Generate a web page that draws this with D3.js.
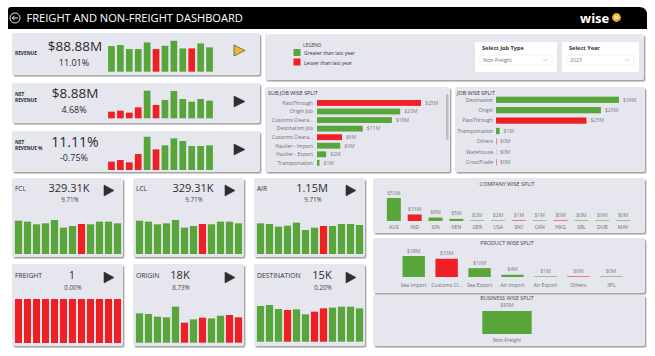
<!DOCTYPE html>
<html><head><meta charset="utf-8">
<script src="https://cdn.jsdelivr.net/npm/d3@7"></script>
<style>
body{margin:0;background:#fff;}
svg{display:block;font-family:'Open Sans',sans-serif;}
</style>
</head><body>
<svg id="c" width="655" height="356"></svg>
<script>
// ---------------- DATA ----------------
const months = ["Jan","Feb","Mar","Apr","May","Jun","Jul","Aug","Sep","Oct","Nov","Dec"];
const kpiLabels = [["REVENUE"],["NET","REVENUE"],["NET","REVENUE %"]];
const kpiValues = ["$88.88M","$8.88M","11.11%"];
const kpiChanges = ["11.01%","4.68%","-0.75%"];
const revenueTrend = [77,80,68,68,88,68,78,93,70,70,85,73];
const revenueUp    = [1,1,1,1,1,0,1,1,1,0,1,1];
const netRevenueTrend = [20,23,17,33,83,40,55,82,58,50,58,53];
const netRevenueUp    = [0,0,0,0,1,0,1,1,1,1,1,1];
const netRevenuePctTrend = [25,30,23,48,100,62,74,95,87,72,72,74];
const netRevenuePctUp    = [0,0,0,0,1,0,1,1,1,1,1,1];

const modeNames   = ["FCL","LCL","AIR"];
const modeValues  = ["329.31K","329.31K","1.15M"];
const modeChanges = ["9.71%","9.71%","9.71%"];
const fclTrend = [100,97,89,92,102,79,84,90,89,97,97,92];
const lclTrend = [100,97,89,92,102,79,84,90,89,97,97,92];
const airTrend = [92,90,82,85,94,72,79,84,84,90,90,87];
const modeUp   = [1,1,1,1,1,1,1,0,1,1,1,1];

const typeNames   = ["FREIGHT","ORIGIN","DESTINATION"];
const typeValues  = ["1","18K","15K"];
const typeChanges = ["0.00%","8.73%","0.20%"];
const freightTrend = [1,1,1,1,1,1,1,1,1,1,1,1];
const freightUp    = [0,0,0,0,0,0,0,0,0,0,0,0];
const originTrend  = [88,86,78,76,108,60,70,75,73,81,83,76];
const originUp     = [1,1,1,1,1,0,1,0,1,1,0,0];
const destTrend    = [107,110,98,95,97,82,90,100,102,105,105,100];
const destUp       = [1,1,1,0,1,1,0,0,1,1,1,1];

const subJobCats = ["PassThrough","Origin Job","Customs Cleara...","Destination Job","Customs Cleara...","Haulier - Import","Haulier - Export","Transportation"];
const subJobValues = [25,20,18,11,6,5.6,2.2,0.6];
const subJobLabels = ["$25M","$20M","$18M","$11M","$6M","$6M","$2M","$1M"];
const subJobUp = [0,1,1,1,0,1,1,1];

const jobCats = ["Destination","Origin","PassThrough","Transportation","Others","Warehouse","CrossTrade"];
const jobValues = [34,29,25,1,0,0,0];
const jobLabels = ["$34M","$29M","$25M","$1M","$0M","$0M","$0M"];
const jobUp = [1,1,0,1,0,2,0];

const companyCats = ["AUS","IND","SIN","KEN","GER","USA","SN1","CAN","HKG","SRL","DUB","MAY"];
const companyValues = [53,15,8,5,2,2,1,1,0,0,0,0];
const companyLabels = ["$53M","$15M","$8M","$5M","$2M","$2M","$1M","$1M","$0M","$0M","$0M","$0M"];
const companyUp = [1,0,1,1,1,1,0,1,0,1,1,1];

const productCats = ["Sea Import","Customs Cl...","Sea Export","Air Import","Air Export","Others","3PL"];
const productValues = [38,33,16,4,1,0,0];
const productLabels = ["$38M","$33M","$16M","$4M","$1M","$0M","$0M"];
const productUp = [1,0,1,1,1,0,1];

const businessCats = ["Non-Freight"];
const businessValues = [89];
const businessLabels = ["$89M"];

const legendItems = ["Greater than last year","Lesser than last year"];
const slicerTitles = ["Select Job Type","Select Year"];
const slicerValues = ["Non-Freight","2023"];

// ---------------- STYLE ----------------
const GREEN = "#58a53b", RED = "#ee2024", CARD = "#e5e6ee", DARK = "#2b2b2b", GREY = "#6e6e6e";
const col = u => u === 1 ? GREEN : (u === 0 ? RED : "#bbb");

const svg = d3.select("#c");
const defs = svg.append("defs");
const f = defs.append("filter").attr("id","sh").attr("x","-5%").attr("y","-5%").attr("width","115%").attr("height","120%");
f.append("feDropShadow").attr("dx",1.4).attr("dy",1.6).attr("stdDeviation",0.7).attr("flood-color","#8a8a8a").attr("flood-opacity",0.75);

function card(x,y,w,h){
  svg.append("rect").attr("x",x).attr("y",y).attr("width",w).attr("height",h)
    .attr("rx",2).attr("fill",CARD).attr("filter","url(#sh)");
}
function text(x,y,s,size,opts={}){
  return svg.append("text").attr("x",x).attr("y",y).text(s)
    .attr("font-size",size).attr("fill",opts.fill||DARK)
    .attr("font-weight",opts.weight||"normal")
    .attr("text-anchor",opts.anchor||"start");
}
function tri(x,y,w,h,fill){
  svg.append("path").attr("d",d3.line()([[x,y],[x+w,y+h/2],[x,y+h]])+"Z")
    .attr("fill",fill).attr("stroke","#333").attr("stroke-width",0.6);
}
function miniBars(values, up, x0, x1, yBottom, yScaleMax, pxMax, pad){
  const xs = d3.scaleBand().domain(months).range([x0,x1]).paddingInner(pad).paddingOuter(pad/2);
  const ys = d3.scaleLinear().domain([0,yScaleMax]).range([yBottom, yBottom-pxMax]);
  svg.append("g").selectAll("rect").data(values).join("rect")
    .attr("x",(d,i)=>xs(months[i])).attr("width",xs.bandwidth())
    .attr("y",d=>ys(d)).attr("height",d=>yBottom-ys(d))
    .attr("fill",(d,i)=>col(up[i]));
}

// ---------------- HEADER ----------------
svg.append("path").attr("d","M8,10 Q8,7 11,7 L639,7 Q647,7 647,15 L647,29 L8,29 Z").attr("fill","#000");
svg.append("circle").attr("cx",15).attr("cy",18).attr("r",5).attr("fill","none").attr("stroke","#fff").attr("stroke-width",0.9);
svg.append("path").attr("d","M18,18 L12.3,18 M14.6,15.7 L12.3,18 L14.6,20.3").attr("fill","none").attr("stroke","#fff").attr("stroke-width",0.9);
text(26.5,22.3,"FREIGHT AND NON-FREIGHT DASHBOARD",11.1,{fill:"#fff"});
text(580,23.2,"wise",13,{fill:"#fff",weight:"bold"});
svg.append("circle").attr("cx",616.5).attr("cy",17.5).attr("r",4.4).attr("fill","#e9b122");
text(616.5,19.3,"bi",4.5,{fill:"#fff",weight:"bold",anchor:"middle"});

// ---------------- KPI CARDS ----------------
const kpiY = [33,83,131];
const kpiTrends = [revenueTrend, netRevenueTrend, netRevenuePctTrend];
const kpiUps = [revenueUp, netRevenueUp, netRevenuePctUp];
const kpiBottom = [71.7,118.3,170];
const kpiValY = [51,98,147];
const kpiChgY = [66,113,161];
const kpiLblY = [[55],[95.5,101.5],[143.5,150]];
kpiY.forEach((y,k)=>{
  card(12,y,248,k===0?42:(k===1?40:41));
  kpiLabels[k].forEach((l,j)=>text(15,kpiLblY[k][j],l,4.8,{weight:"bold"}));
  text(75,kpiValY[k],kpiValues[k],k===2?14:13.5,{anchor:"middle"});
  text(74,kpiChgY[k],kpiChanges[k],9,{anchor:"middle"});
  miniBars(kpiTrends[k],kpiUps[k],107,214,kpiBottom[k],100,33.3,0.25);
  tri(234,kpiY[k]+(k===0?12:13),11,11,k===0?"#f2b731":"#2e2e2e");
});

// ---------------- MODE / TYPE CARDS ----------------
const cardX = [12,133,254];
const modeTrends = [fclTrend,lclTrend,airTrend];
const valX = [69,193,312];
modeNames.forEach((n,k)=>{
  const x = cardX[k];
  card(x,178,111,79);
  text(x+3,191,n,6.5,{fill:"#333"});
  text(valX[k],192,modeValues[k],11,{anchor:"middle"});
  text(valX[k]+1,201.5,modeChanges[k],6.2,{anchor:"middle",fill:"#444"});
  tri(x+92,185,10,11,"#2e2e2e");
  miniBars(modeTrends[k],modeUp,x+2,x+110,254,102,34,0.2);
});
const typeTrends = [freightTrend, originTrend, destTrend];
const typeUps = [freightUp, originUp, destUp];
const typeValX = [72,180,322];
const typeBottom = [343,342.7,341.7];
typeNames.forEach((n,k)=>{
  const x = cardX[k];
  card(x,264,111,82);
  text(x+3,278,n,6.8,{fill:"#333"});
  text(typeValX[k],279,typeValues[k],11,{anchor:"middle"});
  text(typeValX[k]+1,289.5,typeChanges[k],6.2,{anchor:"middle",fill:"#444"});
  tri(x+92,272,10,11,"#2e2e2e");
  if(k===0) miniBars(typeTrends[k],typeUps[k],x+2,x+110,typeBottom[k],1,44,0.22);
  else miniBars(typeTrends[k],typeUps[k],x+2,x+110,typeBottom[k],110,36.7,0.2);
});

// ---------------- LEGEND + SLICERS ----------------
card(265,34,379,46);
text(303,46.5,"LEGEND",4.8,{fill:"#444"});
legendItems.forEach((l,i)=>{
  svg.append("rect").attr("x",293.5).attr("y",49+i*9.5).attr("width",7).attr("height",7).attr("fill",i===0?GREEN:RED);
  text(304,55+i*9.5,l,5,{fill:"#333"});
});
const slX = [475,562];
slicerTitles.forEach((t,i)=>{
  const x = slX[i], w = i===0?82:77;
  svg.append("rect").attr("x",x).attr("y",42).attr("width",w).attr("height",30).attr("fill","#fff");
  text(x+7,49.5,t,5.6,{weight:"bold",fill:"#333"});
  svg.append("rect").attr("x",x+5).attr("y",55).attr("width",w-10).attr("height",10).attr("fill","#fff").attr("stroke","#e4e4e4").attr("stroke-width",0.5);
  text(x+8,62.3,slicerValues[i],5.2,{fill:"#777"});
  svg.append("path").attr("d",`M${x+w-14},58.7 L${x+w-11.5},61 L${x+w-9},58.7`).attr("fill","none").attr("stroke","#999").attr("stroke-width",0.5);
});

// ---------------- SUB JOB WISE SPLIT ----------------
card(265,87,185,85);
text(268,94.5,"SUB JOB WISE SPLIT",5.4,{fill:"#333"});
svg.append("rect").attr("x",446).attr("y",94).attr("width",2.4).attr("height",46).attr("rx",1.2).attr("fill","#bdbdbd");
{
  const ys = d3.scaleBand().domain(d3.range(subJobCats.length)).range([97.3,168.5]).padding(0.32);
  const xs = d3.scaleLinear().domain([0,25]).range([317,421]);
  const g = svg.append("g");
  g.selectAll("rect").data(subJobValues).join("rect")
    .attr("x",xs(0)).attr("y",(d,i)=>ys(i)).attr("height",ys.bandwidth())
    .attr("width",d=>Math.max(1,xs(d)-xs(0))).attr("fill",(d,i)=>col(subJobUp[i]));
  g.selectAll("text.c").data(subJobCats).join("text").attr("class","c")
    .attr("x",313).attr("y",(d,i)=>ys(i)+ys.bandwidth()/2+1.8).attr("text-anchor","end")
    .attr("font-size",5.1).attr("fill",GREY).text(d=>d);
  g.selectAll("text.v").data(subJobValues).join("text").attr("class","v")
    .attr("x",d=>xs(d)+4).attr("y",(d,i)=>ys(i)+ys.bandwidth()/2+1.8)
    .attr("font-size",5.1).attr("fill","#808080").text((d,i)=>subJobLabels[i]);
}

// ---------------- JOB WISE SPLIT ----------------
card(455,87,190,85);
text(457,94.5,"JOB WISE SPLIT",5.4,{fill:"#333"});
{
  const ys = d3.scaleBand().domain(d3.range(jobCats.length)).range([92.5,169.5]).padding(0.4);
  const xs = d3.scaleLinear().domain([0,34]).range([496,619]);
  const g = svg.append("g");
  g.selectAll("rect").data(jobValues).join("rect")
    .attr("x",xs(0)).attr("y",(d,i)=>ys(i)).attr("height",ys.bandwidth())
    .attr("width",d=>Math.max(0.8,xs(d)-xs(0))).attr("fill",(d,i)=>col(jobUp[i]))
    .attr("opacity",d=>d<0.5?0.6:1);
  g.selectAll("text.c").data(jobCats).join("text").attr("class","c")
    .attr("x",493).attr("y",(d,i)=>ys(i)+ys.bandwidth()/2+1.8).attr("text-anchor","end")
    .attr("font-size",5.1).attr("fill",GREY).text(d=>d);
  g.selectAll("text.v").data(jobValues).join("text").attr("class","v")
    .attr("x",d=>xs(d)+4).attr("y",(d,i)=>ys(i)+ys.bandwidth()/2+1.8)
    .attr("font-size",5.1).attr("fill","#808080").text((d,i)=>jobLabels[i]);
}

// ---------------- COLUMN PANELS ----------------
function columnPanel(title, y0, h, titleY, cats, values, labels, up, range, pad, bottom, maxV, maxPx, catY){
  card(373,y0,272,h);
  text(507,titleY,title,5.4,{anchor:"middle",fill:"#444"});
  const xs = d3.scaleBand().domain(cats).range(range).padding(pad);
  const ys = d3.scaleLinear().domain([0,maxV]).range([bottom,bottom-maxPx]);
  const g = svg.append("g");
  g.selectAll("rect").data(values).join("rect")
    .attr("x",(d,i)=>xs(cats[i])).attr("width",xs.bandwidth())
    .attr("y",d=>Math.min(ys(d),bottom-1)).attr("height",d=>Math.max(1,bottom-ys(d)))
    .attr("fill",(d,i)=>col(up[i])).attr("opacity",d=>(bottom-ys(d))<1.5?0.55:1);
  g.selectAll("text.v").data(values).join("text").attr("class","v")
    .attr("x",(d,i)=>xs(cats[i])+xs.bandwidth()/2).attr("y",d=>Math.min(ys(d),bottom-1)-3.5)
    .attr("text-anchor","middle").attr("font-size",5.1).attr("fill","#808080").text((d,i)=>labels[i]);
  g.selectAll("text.c").data(cats).join("text").attr("class","c")
    .attr("x",d=>xs(d)+xs.bandwidth()/2).attr("y",catY)
    .attr("text-anchor","middle").attr("font-size",5.1).attr("fill",GREY).text(d=>d);
}
columnPanel("COMPANY WISE SPLIT",178,55,185.5,companyCats,companyValues,companyLabels,companyUp,[380,637],0.33,221,53,23,229);
columnPanel("PRODUCT WISE SPLIT",238,55,244.5,productCats,productValues,productLabels,productUp,[392,633],0.32,277,38,21,287);
{
  card(373,295,272,51);
  text(507,299.5,"BUSINESS WISE SPLIT",5.4,{anchor:"middle",fill:"#444"});
  const xs = d3.scaleBand().domain(businessCats).range([458,556]).padding(0.33);
  const ys = d3.scaleLinear().domain([0,89]).range([334,311]);
  svg.append("g").selectAll("rect").data(businessValues).join("rect")
    .attr("x",(d,i)=>xs(businessCats[i])).attr("width",xs.bandwidth())
    .attr("y",d=>ys(d)).attr("height",d=>334-ys(d)).attr("fill",GREEN);
  text(507,307,businessLabels[0],5.1,{anchor:"middle",fill:"#808080"});
  text(507,342,businessCats[0],5.1,{anchor:"middle",fill:GREY});
}
</script>
</body></html>
